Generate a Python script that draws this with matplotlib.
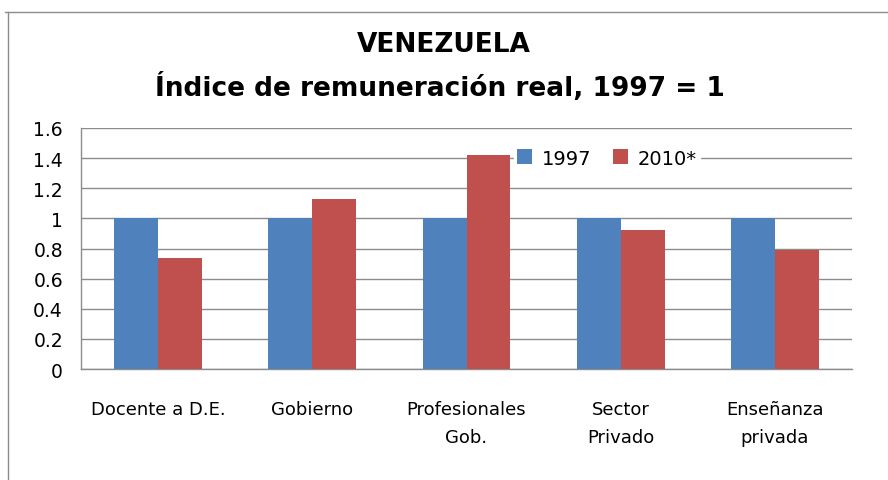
import matplotlib.pyplot as plt
import numpy as np
from matplotlib.lines import Line2D

categories = ["Docente a D.E.", "Gobierno", "Profesionales\nGob.", "Sector\nPrivado", "Enseñanza\nprivada"]
vals_1997 = [1, 1, 1, 1, 1]
vals_2010 = [0.74, 1.13, 1.42, 0.92, 0.79]
series_names = ["1997", "2010*"]
yticks = [0, 0.2, 0.4, 0.6, 0.8, 1, 1.2, 1.4, 1.6]
ytick_labels = ["0", "0.2", "0.4", "0.6", "0.8", "1", "1.2", "1.4", "1.6"]

blue = "#4F81BD"
red = "#C0504D"
grid_col = "#8C8C8C"

fig = plt.figure(figsize=(8.88, 4.81), dpi=100)
W, H = 888, 481
ax = fig.add_axes([81 / W, 1 - 370 / H, (852 - 81) / W, (370 - 129) / H])

x = np.arange(len(categories))
w = 0.285
ax.bar(x - w / 2, vals_1997, w, color=blue, label=series_names[0], zorder=3)
ax.bar(x + w / 2, vals_2010, w, color=red, label=series_names[1], zorder=3)

ax.set_xlim(-0.5, len(categories) - 0.5)
ax.set_ylim(0, 1.6)
ax.set_yticks(yticks)
ax.set_yticklabels(ytick_labels, fontsize=13.5)
ax.set_xticks(x)
ax.set_xticklabels(categories, fontsize=13, linespacing=1.75, va="top")
ax.tick_params(axis="both", length=0, colors="black")
ax.tick_params(axis="y", pad=13)
ax.tick_params(axis="x", pad=22)

ax.grid(axis="y", color=grid_col, linewidth=1, zorder=0)
for s in ["top", "right"]:
    ax.spines[s].set_visible(False)
for s in ["left", "bottom"]:
    ax.spines[s].set_color(grid_col)
    ax.spines[s].set_linewidth(1)

leg = ax.legend(loc="center", bbox_to_anchor=(0.682, 1.4 / 1.6), ncol=2, frameon=True,
                fontsize=14, handlelength=0.8, handleheight=0.8, handletextpad=0.5,
                columnspacing=1.1, borderpad=0.15, borderaxespad=0)
leg.get_frame().set_edgecolor("white")
leg.get_frame().set_facecolor("white")
leg.get_frame().set_alpha(1)
leg.get_frame().set_boxstyle("square", pad=0)
leg.set_zorder(5)

fig.text(444 / W, 1 - 45 / H, "VENEZUELA", ha="center", va="center",
         fontsize=19, fontweight="bold")
fig.text(440 / W, 1 - 88 / H, "Índice de remuneración real, 1997 = 1", ha="center",
         va="center", fontsize=19, fontweight="bold")

# chart outer border
fig.add_artist(Line2D([5 / W, 1], [1 - 13 / H, 1 - 13 / H], transform=fig.transFigure,
                      color="#8C8C8C", linewidth=1))
fig.add_artist(Line2D([8 / W, 8 / W], [1 - 13 / H, 0], transform=fig.transFigure,
                      color="#8C8C8C", linewidth=1))

fig.savefig("out.png", dpi=100)
